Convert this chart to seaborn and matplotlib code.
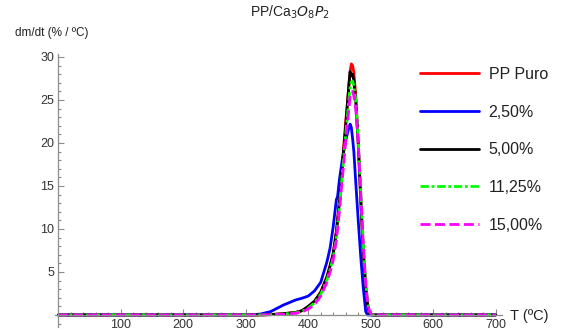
import matplotlib
matplotlib.use("Agg")
import matplotlib.pyplot as plt
from matplotlib.ticker import MultipleLocator
import seaborn as sns
import pandas as pd

# temperature grid (ºC) and dm/dt values (% / ºC)
temp = [0, 100, 200, 300, 320, 340, 360, 380, 390, 400, 410, 420, 430, 435, 440,
        445, 447, 450, 455, 460, 465, 467, 469, 471, 473, 476, 480, 484, 488, 492,
        495, 498, 502, 520, 600, 700]

pp_puro = [0, 0, 0, 0, 0, 0.05, 0.15, 0.3, 0.5, 1.0, 1.6, 2.7, 4.5, 5.8, 7.2,
           9.8, 11.2, 13.5, 18, 22.5, 26.5, 28.3, 29.2, 29.0, 28.2, 25.5, 20, 13.5, 7.5, 3.2,
           1.2, 0.2, 0, 0, 0, 0]
pct_2_50 = [0, 0, 0, 0, 0.05, 0.4, 1.15, 1.75, 1.95, 2.2, 2.8, 3.8, 6.2, 7.8, 10.3,
            13.4, 13.8, 15.8, 18.3, 20.3, 21.8, 22.2, 21.8, 20.5, 19.0, 15.5, 11.0, 6.8, 3.2, 0.4,
            0, 0, 0, 0, 0, 0]
pct_5_00 = [0, 0, 0, 0, 0, 0.05, 0.15, 0.3, 0.5, 1.0, 1.6, 2.6, 4.4, 5.7, 7.1,
            9.6, 11.0, 13.2, 17.5, 22.0, 26.8, 28.3, 27.8, 28.0, 27.2, 25.0, 20, 13.5, 7.5, 3.2,
            1.2, 0.2, 0, 0, 0, 0]
pct_11_25 = [0, 0, 0, 0, 0, 0.03, 0.1, 0.25, 0.4, 0.8, 1.4, 2.4, 4.1, 5.3, 6.7,
             9.0, 10.4, 12.6, 16.8, 21.0, 25.0, 26.5, 27.1, 27.2, 26.6, 25.0, 20.5, 14.5, 8.5, 3.8,
             1.6, 0.4, 0, 0, 0, 0]
pct_15_00 = [0, 0, 0, 0, 0, 0.03, 0.08, 0.2, 0.35, 0.7, 1.2, 2.2, 3.8, 5.0, 6.4,
             8.7, 10.0, 12.2, 16.2, 20.3, 24.0, 25.4, 25.9, 26.0, 25.5, 24.0, 20.0, 14.2, 8.3, 3.7,
             1.5, 0.4, 0, 0, 0, 0]

series = ["PP Puro", "2,50%", "5,00%", "11,25%", "15,00%"]
values = [pp_puro, pct_2_50, pct_5_00, pct_11_25, pct_15_00]
colors = ["#ff0000", "#0000ff", "#000000", "#00ff00", "#ff00ff"]
dashes = [(None, None), (None, None), (None, None), (3, 1, 1, 1), (3.6, 1.6)]

df = pd.concat(
    [pd.DataFrame({"T": temp, "dmdt": v, "serie": s}) for s, v in zip(series, values)]
)

sns.set_style("ticks")
plt.rcParams["font.family"] = ["Liberation Sans", "DejaVu Sans"]

fig = plt.figure(figsize=(5.72, 3.31), dpi=100)
ax = fig.add_axes([0.0965, 0.012, 0.781, 0.8236])

for s, c, d in zip(series, colors, dashes):
    sns.lineplot(
        data=df[df["serie"] == s],
        x="T",
        y="dmdt",
        color=c,
        linewidth=2.0,
        label=s,
        ax=ax,
        dashes=False,
    )
    if d[0] is not None:
        ax.lines[-1].set_dashes(d)

ax.set_xlim(-5, 710)
ax.set_ylim(-1.4, 30.3)
ax.spines["left"].set_position(("data", 0))
ax.spines["bottom"].set_position(("data", 0))
ax.spines["right"].set_visible(False)
ax.spines["top"].set_visible(False)
for sp in ("left", "bottom"):
    ax.spines[sp].set_color("#8c8c8c")
    ax.spines[sp].set_linewidth(0.9)

ax.xaxis.set_major_locator(MultipleLocator(100))
ax.xaxis.set_minor_locator(MultipleLocator(20))
ax.yaxis.set_major_locator(MultipleLocator(5))
ax.yaxis.set_minor_locator(MultipleLocator(1))
ax.set_xticks([100, 200, 300, 400, 500, 600, 700])
ax.set_yticks([5, 10, 15, 20, 25, 30])
ax.tick_params(which="both", direction="in", color="#8c8c8c", width=0.8,
               labelsize=9, labelcolor="#333333")
ax.tick_params(which="major", length=4, pad=3)
ax.tick_params(which="minor", length=2.5)
ax.tick_params(axis="x", pad=3)
ax.set_xlabel("")
ax.set_ylabel("")

fig.text(290 / 572, 1 - 12 / 331, r"PP/Ca$_3$$O_8$$P_2$", ha="center", va="center",
         fontsize=10, color="#222222")
fig.text(15 / 572, 1 - 33 / 331, "dm/dt (% / ºC)", ha="left", va="center",
         fontsize=8.5, color="#222222")
fig.text(510 / 572, 1 - 316 / 331, "T (ºC)", ha="left", va="center",
         fontsize=10.5, color="#222222")

ax.get_legend().remove()
handles, labels = ax.get_legend_handles_labels()
fig.legend(handles, labels, loc="upper left", bbox_to_anchor=(420 / 572, 1 - 67 / 331),
           frameon=False, fontsize=11.5, handlelength=3.7, handletextpad=0.6,
           labelspacing=1.42, borderpad=0, borderaxespad=0, labelcolor="#222222")

fig.savefig("out.png", dpi=100)
